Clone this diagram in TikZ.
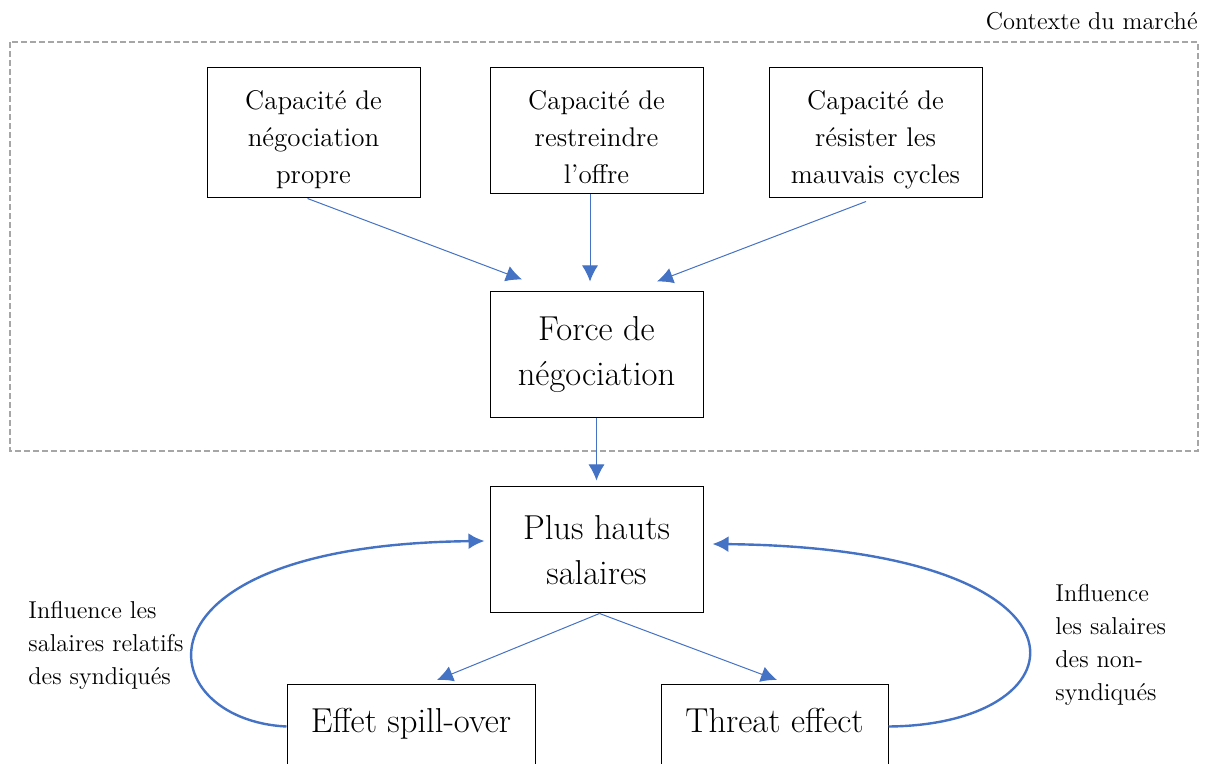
\documentclass[tikz,border=0pt]{standalone}
\usepackage{fontspec}
\usetikzlibrary{calc,positioning,arrows.meta}
\definecolor{linkblue}{HTML}{4472C4}
\newcommand{\toppad}{\rule{0pt}{16pt}}
\tikzset{
  capbox/.style={rectangle,draw=black,line width=0.5pt,minimum width=106.5pt,minimum height=65pt,align=center,inner sep=0pt,font=\fontsize{13.5}{18.5}\selectfont},
  bigbox/.style={rectangle,draw=black,line width=0.5pt,minimum width=106.5pt,minimum height=63pt,align=center,inner sep=0pt,font=\fontsize{17.3}{22.5}\selectfont},
  thinlink/.style={-{Latex[length=8pt,width=8pt]},draw=linkblue,line width=0.5pt},
  loopnlink/.style={-{Latex[length=8pt,width=8pt]},draw=linkblue,line width=1.2pt},
  sidenote/.style={align=left,anchor=north west,inner sep=0pt,font=\fontsize{12.2}{16.5}\selectfont}
}
\begin{document}
\begin{tikzpicture}[x=0.5pt,y=-0.5pt]

\coordinate (ORIGIN) at (0,0);
\useasboundingbox (ORIGIN) rectangle (1206,764);
\clip (ORIGIN) rectangle (1206,764);

%draw market context
\draw[gray!70,dashed,dash pattern=on 3pt off 1.5pt,line width=0.75pt] ($(ORIGIN)+(10,42)$) rectangle ($(ORIGIN)+(1198,451)$);
\node[anchor=base east,inner sep=0pt,font=\fontsize{12.2}{16.5}\selectfont] at ($(ORIGIN)+(1198,30)$) (context) {Contexte du marché};

%%%%%%%

%draw capacities
\node[capbox] at ($(ORIGIN)+(313.5,133)$) (cap1) {\toppad Capacité de\\négociation\\propre};
\node[capbox,minimum height=63pt] at ($(ORIGIN)+(596.5,131)$) (cap2) {\toppad Capacité de\\restreindre\\l’offre};
\node[capbox] at ($(ORIGIN)+(875.5,133)$) (cap3) {\toppad Capacité de\\résister les\\mauvais cycles};

\node[bigbox] at ($(ORIGIN)+(596.5,355)$) (force) {Force de\\négociation};
\node[bigbox] at ($(ORIGIN)+(596.5,550)$) (wages) {Plus hauts\\salaires};

% bottom boxes run past the lower edge
\node[bigbox,minimum width=124pt,minimum height=42pt,text height=12pt,text depth=6.4pt,anchor=north] at ($(ORIGIN)+(411,684)$) (spill) {Effet spill-over};
\node[bigbox,minimum width=113.5pt,minimum height=42pt,text height=12pt,text depth=6.4pt,anchor=north] at ($(ORIGIN)+(774.5,684)$) (threat) {Threat effect};

\draw[thinlink] ($(cap1.south)+(-6,0)$) -- ($(force.north)+(-74.5,-12)$);
\draw[thinlink] ($(cap2.south)+(-6.5,0)$) -- ($(force.north)+(-6.5,-10)$);
\draw[thinlink] ($(cap3.south)+(-9.5,3)$) -- ($(force.north)+(60.5,-10)$);
\draw[thinlink] (force.south) -- ($(wages.north)+(0,-6)$);
\draw[thinlink] ($(wages.south)+(3,0)$) -- ($(spill.north)+(26,-4)$);
\draw[thinlink] ($(wages.south)+(3,0)$) -- ($(threat.north)+(2.5,-4)$);

%feedback loops
\draw[loopnlink] (spill.west) .. controls (150,720) and (120,545) .. ($(wages.west)+(-5,-9)$);
\draw[loopnlink] (threat.east) .. controls (1090,725) and (1110,548) .. ($(wages.east)+(9,-6)$);

\node[sidenote] at ($(ORIGIN)+(28,601)$) (leftnote) {Influence les\\salaires relatifs\\des syndiqués};
\node[sidenote] at ($(ORIGIN)+(1055,584)$) (rightnote) {Influence\\les salaires\\des non-\\syndiqués};

\end{tikzpicture}
\end{document}
